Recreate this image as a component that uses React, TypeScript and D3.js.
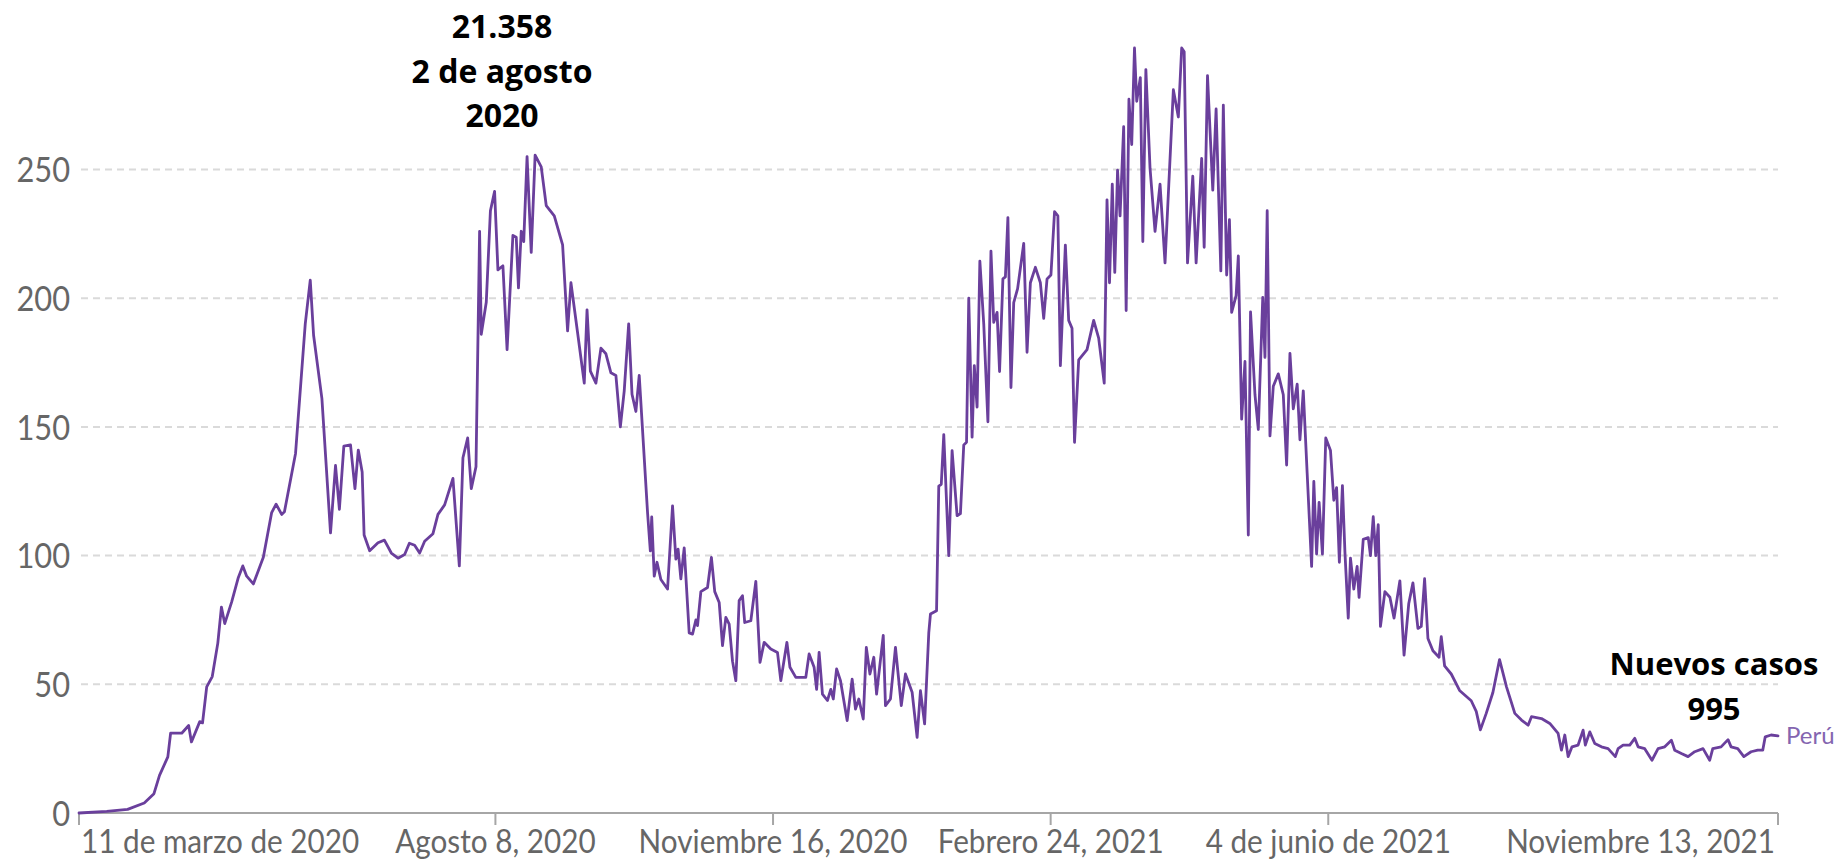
import React from 'react';
import * as d3 from 'd3';

// fecha de inicio de la serie; cada punto se ubica por días desde aquí
const startDate = '2020-03-11';
const endDate = '2021-11-13';

const dayOffsets = [
  0, 10, 17.5, 23.5, 27, 29, 32, 33, 37, 39.5, 40.5, 43.5, 44.5, 46, 48, 50, 51.3, 52.5, 55, 57.4,
  59, 60.4, 62.8, 66.4, 69.4, 71, 73, 74, 78, 81.5, 83.3, 84.5, 87.5, 90.6, 92.4, 93.8, 95.4, 97.8, 99.4, 100.6,
  102, 102.7, 104.7, 107.7, 110, 112.5, 114.9, 117.3, 119, 120.9, 122.7, 124.5, 127.5, 129.3, 131.7, 134.7, 137, 138.3, 140, 141.3,
  143, 144.3, 144.9, 146.7, 148.2, 149.7, 150.9, 152.7, 154.2, 156.3, 157.5, 158.3, 159.3, 160.2, 161.4, 162.9, 164.3, 166.5, 168.3, 171.2,
  174.2, 176, 177.2, 179.6, 182, 183, 184.2, 186.2, 188, 189.8, 191.6, 193.4, 195, 196.4, 198, 199.2, 200.6, 201.8, 204.8, 205.8,
  206.3, 207.2, 208.2, 209.6, 212, 213.8, 215, 215.8, 216.8, 218, 219.8, 221, 222.2, 222.8, 224, 226.4, 227.8, 229, 230.6, 231.8,
  233, 234.2, 235.4, 236.6, 237.8, 239, 239.8, 242, 243.8, 245.3, 246.8, 249.2, 251.6, 252.8, 255, 256.1, 258.2, 261.8, 263, 264.8,
  265.7, 266.6, 267.8, 269.6, 270.8, 271.7, 272.9, 274.3, 276.7, 278.5, 279.7, 280.9, 282.5, 283.6, 284.9, 286.3, 287.3, 289.7, 290.5, 292.3,
  294.1, 296.2, 297.7, 300.1, 301.9, 303.1, 304.6, 306.1, 306.7, 308.9, 309.7, 310.6, 311.5, 313.3, 314.5, 316.3, 317.5, 318.7, 319.7, 320.5,
  321.7, 322.5, 323.5, 324.5, 325.9, 327.4, 328.5, 329.5, 330.7, 331.6, 332.8, 333.7, 334.6, 335.7, 336.7, 338.1, 340.3, 341.5, 342.7, 344.5,
  346.3, 347.5, 348.7, 350.1, 351.4, 352.6, 353.5, 355.3, 356.5, 357.7, 358.6, 360.1, 363.1, 365.5, 367.3, 369.3, 370.3, 371.2, 372.2, 373.1,
  374.1, 375, 376.3, 377.2, 378.2, 379.2, 380.2, 381, 382.3, 383.2, 384.3, 385.8, 387.6, 389.4, 391.2, 394.2, 396, 397.2, 398.1, 399.3,
  401.2, 402.4, 404.4, 405.3, 406.5, 408.4, 409.6, 411.3, 412.2, 413.4, 414.4, 415.2, 416.8, 417.6, 418.8, 420, 421.2, 422, 423.6, 424.8,
  426.4, 427.2, 428, 429, 430.2, 432, 433.8, 435, 436.2, 437.4, 438.8, 439.8, 441, 442.4, 444, 444.8, 445.8, 446.7, 447.9, 449.1,
  450.8, 452, 453, 454, 455.1, 456, 457.2, 458, 459.2, 460.4, 461.1, 462.6, 464.4, 465.2, 466.2, 467.1, 468, 468.8, 470.4, 472.2,
  473.7, 475.8, 477.3, 479, 480.5, 482.3, 483.5, 484.7, 485.9, 487.7, 489.9, 490.7, 491.9, 494.3, 497.3, 501.5, 503.3, 504.8, 506.9, 509.3,
  511.7, 514.2, 517.2, 519.6, 522, 523.2, 526.8, 529.8, 532.8, 534, 535.2, 536.4, 537.8, 540, 541.8, 542.6, 544.2, 546, 548.4, 550.8,
  553.4, 554.4, 556.2, 558.6, 560.4, 561.6, 564, 566.6, 568.8, 571.2, 573.6, 574.8, 577.2, 579.6, 582, 585, 587.4, 588.5, 591.5, 594,
  595.1, 597.5, 599.7, 602.3, 604.7, 606.5, 607.4, 609.5, 612
];

const values = [
  0, 0.6, 1.4, 3.9, 7.5, 14.6, 21.8, 31, 31, 34, 27.6, 35.5, 35, 49, 53, 66, 80, 73.6, 82, 91.5,
  96, 92, 89, 99.4, 116.7, 120, 116, 117, 139.7, 190, 207, 185.6, 161, 108.8, 135, 118, 142.5, 143, 126, 141,
  132.5, 108, 101.9, 105, 106, 101, 99, 100.4, 104.8, 104, 101, 105.6, 108.5, 116, 119.7, 130, 96, 138, 145.7, 126,
  134.5, 226, 186, 198.4, 234, 241.5, 211, 212.6, 180, 224.4, 223.7, 204, 226, 222, 255, 217.8, 255.6, 251, 236, 232,
  220.7, 187.3, 206, 186.6, 167, 195.5, 171.7, 167, 180.6, 178.4, 171, 170, 150, 164, 190, 162.7, 156, 170, 116.7, 101.8,
  115, 92, 97.4, 90.7, 87, 119.3, 98.6, 102.5, 91, 103, 70, 69.5, 75, 72.8, 86, 87.6, 99.3, 86, 81.8, 65,
  76, 73.4, 59, 51.4, 82.5, 84.4, 74, 74.7, 90, 58.5, 66.3, 63.7, 62.4, 51.4, 66.3, 56.6, 52.7, 52.7, 61.8, 56.6,
  48, 62.4, 46.2, 43.7, 48, 44.3, 56, 51.4, 35.9, 52, 40.4, 44.3, 36.5, 64.3, 54, 60.5, 46.2, 69, 41.7, 44.3,
  64.3, 41.7, 54, 46.9, 29.4, 47.5, 34.6, 70, 77.3, 78.6, 127, 127.7, 147, 100, 140.8, 115.5, 116.3, 143, 144, 200,
  146, 173.8, 157.7, 214.4, 190, 152, 218.3, 190.6, 194.5, 171.5, 207.5, 208.3, 231.3, 165.3, 198.3, 203.7, 221.3, 179, 206, 212,
  206, 192.2, 207.5, 209, 233.6, 232, 173.8, 220.6, 191.4, 188.3, 144, 176, 180, 191.4, 184.5, 167, 238.2, 206, 244.3, 210,
  249.7, 232, 266.6, 195.2, 277.3, 259.7, 297.2, 276.5, 285.7, 222, 288.8, 250.5, 226, 244.3, 213.7, 281, 270.4, 297.2, 295.7, 213.7,
  247.4, 213.7, 254.3, 219.8, 286.5, 242, 273.5, 210.6, 275, 209, 230.5, 194.5, 201, 216.4, 153, 175.4, 108, 194.7, 162.5, 149,
  200.3, 177, 234, 146.5, 165.8, 170.6, 162.5, 135.2, 178.6, 157, 166.6, 145, 164, 132, 95.8, 128.8, 100.6, 120.7, 100.6, 145.7,
  140.8, 121.5, 126.4, 97.4, 127.2, 101.4, 75.7, 99, 87, 95.8, 83.8, 106.3, 107, 100, 115.1, 100, 112, 72.5, 86, 83.8,
  75.7, 90.2, 61.3, 81.4, 89.4, 71.7, 72.5, 91, 67.8, 63, 60.5, 68.5, 57.2, 54, 47.6, 43.6, 39.5, 32.3, 38.7, 46.8,
  59.6, 49, 38.7, 36.1, 34.1, 37.4, 36.7, 34.8, 30.9, 24.4, 30.3, 21.9, 25.7, 26.4, 32.2, 26.4, 31.5, 27, 25.7, 25,
  21.9, 25, 26.4, 26.4, 29, 25.7, 25, 20.5, 25, 25.7, 28.3, 24.4, 23.1, 21.9, 23.8, 25, 20.5, 25, 25.7, 28.5,
  25.7, 25, 21.9, 23.8, 24.4, 24.4, 29.6, 30.3, 30
];

const yTicks = [0, 50, 100, 150, 200, 250];
const xTickDates = ['2020-03-11', '2020-08-08', '2020-11-16', '2021-02-24', '2021-06-04', '2021-11-13'];
const xTickLabels = [
  '11 de marzo de 2020',
  'Agosto 8, 2020',
  'Noviembre 16, 2020',
  'Febrero 24, 2021',
  '4 de junio de 2021',
  'Noviembre 13, 2021'
];
const peakNote = ['21.358', '2 de agosto', '2020'];
const lastNote = ['Nuevos casos', '995'];
const seriesName = 'Perú';

const W = 1838;
const H = 861;
const lineColor = '#6a3f9c';
const tickFont = 'Lato, "Open Sans", sans-serif';

const App = () => {
  const start = new Date(startDate + 'T00:00:00Z');
  const points = dayOffsets.map((d, i) => ({
    date: new Date(start.getTime() + d * 86400000),
    value: values[i]
  }));

  const x = d3.scaleUtc()
    .domain([start, new Date(endDate + 'T00:00:00Z')])
    .range([79, 1778]);

  const y = d3.scaleLinear()
    .domain([0, 250])
    .range([813, 169.5]);

  const line = d3.line()
    .x(d => x(d.date))
    .y(d => y(d.value));

  const last = points[points.length - 1];
  const xEnd = x.range()[1];

  return (
    <svg width={W} height={H} style={{ position: 'absolute', left: 0, top: 0, background: '#fff' }}>
      {/* grid */}
      {yTicks.filter(t => t > 0).map(t => (
        <line key={t} x1={81} x2={xEnd} y1={y(t)} y2={y(t)}
          stroke="#dadada" strokeWidth={2} strokeDasharray="7,5" />
      ))}
      {yTicks.map(t => (
        <text key={'yl' + t} transform={`translate(70,${y(t)}) scale(0.88,1)`}
          textAnchor="end" dy="0.36em" fontFamily={tickFont} fontSize={35} fill="#666">
          {t}
        </text>
      ))}

      {/* eje x */}
      <line x1={x.range()[0]} x2={xEnd} y1={y(0)} y2={y(0)} stroke="#a6a6a6" strokeWidth={2} />
      {xTickDates.map((d, i) => {
        const xp = x(new Date(d + 'T00:00:00Z'));
        const anchor = i === 0 ? 'start' : i === xTickDates.length - 1 ? 'end' : 'middle';
        return (
          <g key={d}>
            <line x1={xp} x2={xp} y1={y(0)} y2={y(0) + 12} stroke="#a6a6a6" strokeWidth={2} />
            <text transform={`translate(${xp + (i === 0 ? 2 : i === xTickDates.length - 1 ? -3 : 0)},853) scale(0.9,1)`}
              textAnchor={anchor} fontFamily={tickFont} fontSize={33} fill="#666">
              {xTickLabels[i]}
            </text>
          </g>
        );
      })}

      {/* serie */}
      <path d={line(points)} fill="none" stroke={lineColor} strokeWidth={2.8}
        strokeLinejoin="round" strokeLinecap="round" />
      <text x={x(last.date) + 8} y={y(last.value)} dy="0.36em"
        fontFamily={tickFont} fontSize={24} fill="#8465b0">
        {seriesName}
      </text>

      {/* anotaciones */}
      {peakNote.map((s, i) => (
        <text key={s} x={502} y={38 + i * 44.5} textAnchor="middle"
          fontFamily='"Open Sans", sans-serif' fontWeight={700} fontSize={32} fill="#000">
          {s}
        </text>
      ))}
      {lastNote.map((s, i) => (
        <text key={s} x={1714} y={675 + i * 45} textAnchor="middle"
          fontFamily='"Open Sans", sans-serif' fontWeight={700} fontSize={31} fill="#000">
          {s}
        </text>
      ))}
    </svg>
  );
};

export default App;
